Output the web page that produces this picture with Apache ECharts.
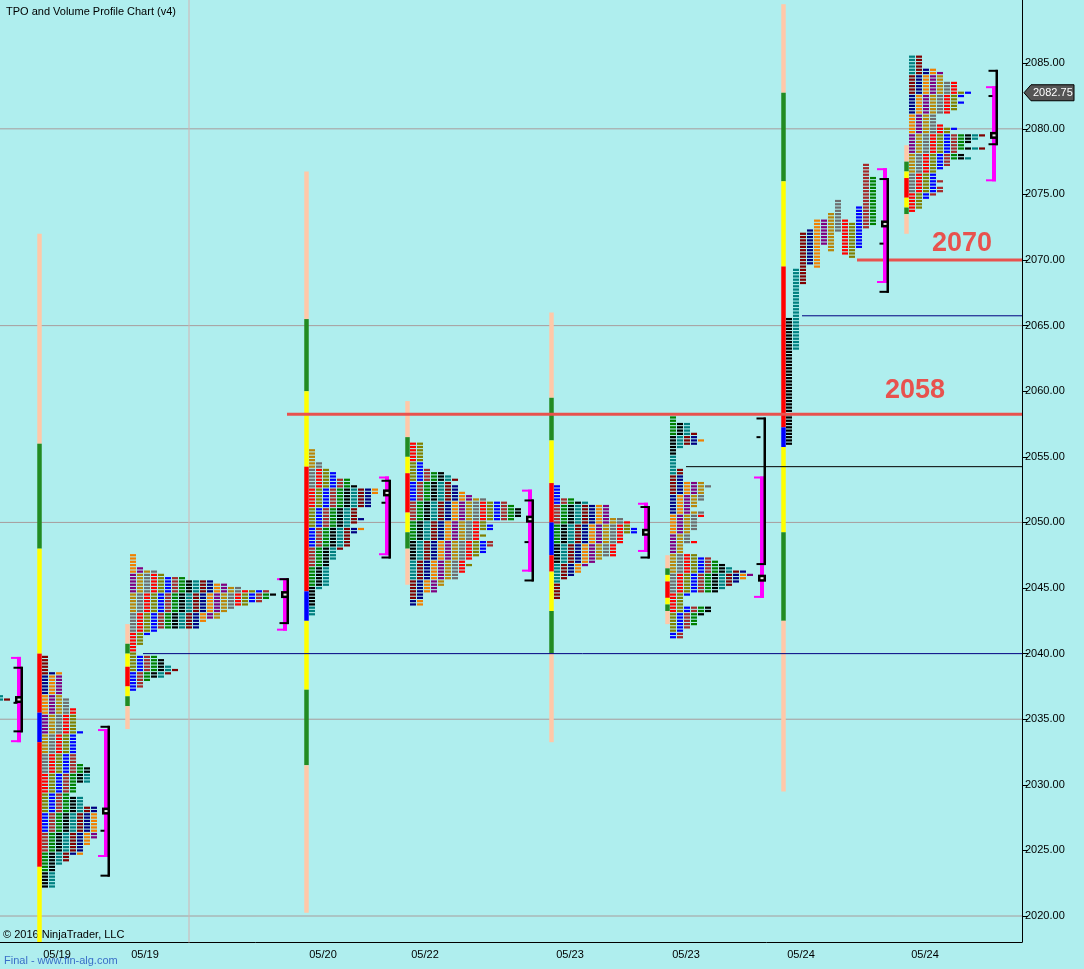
<!DOCTYPE html>
<html><head><meta charset="utf-8">
<script src="https://cdn.jsdelivr.net/npm/echarts@6/dist/echarts.min.js"></script>
<style>html,body{margin:0;padding:0;background:#AFEEEE}#c{width:1084px;height:969px}</style>
</head><body><div id="c"></div><script>
// ---------- DATA ----------
const xLabelPos  = [57, 145, 323, 425, 570, 686, 801, 925];
const xLabelText = ['05/19','05/19','05/20','05/22','05/23','05/23','05/24','05/24'];
const yTicks = [2020,2025,2030,2035,2040,2045,2050,2055,2060,2065,2070,2075,2080,2085];
const gridLevels = [2020, 2035, 2050, 2065, 2080];
const TICK = 0.25;

// collapsed TPO profiles: TPO count per price row, from the top row downward
const tpo0 = [2,3];
const tpoA = [1,1,1,1,1, 3,3,3,3,3,3,3,3, 4,4,4, 5,5,5,5,5,5,5, 6, 5,5,5,5,5,5,5,5,5, 6, 7,7,7,7,7, 5,5,5, 4, 6,6,6, 8,8,8,8,8,8,8,8,8,8, 7,7, 6,6,6, 4,4, 3, 2,2,2,2,2,2,2];
const tpoB = [1,1,1,1,2,4,5,8,12,14,16,20,21,20,19,17,15,14,13,13,11,10,10,4,3,2,2,2,1,1,1,4,5,5,6,7,6,5,3,2,2,1];
const tpoC = [1,1,1,1,2,2,3,4,4,6,6,7,10,10,9,9,9,9,7,7,7,8,7,6,8,7,6,6,6,6,5,4,4,4,3,3,3,3,3,3,3,3,2,1,1,1,1,1,1,1,1];
const tpoD = [2,2,2,2,2,2,2,2,3,5,6,7,6,7,7,8,9,11,14,15,16,16,16,15,11,12,12,10,11,10,12,12,11,11,10,9,8,9,8,8,7,7,5,5,4,4,2,2,2,2];
const tpoE = [1,1,1,1,3,5,8,8,8,8,10,11,11,12,12,10,10,10,9,9,9,9,7,6,5,4,4,3,2,1,1,1,1,1,1];
const tpoF = [1,1,3,3,3,4,4,5,4,2, 1,1,1,1,1,1,2,2,2,2, 5,6,5,5,5,5,4,4,3, 5,5,4,4,4,4,3,3,3, 4,2,2,2,4, 6,7,8,9,11,12,11,10,9,8, 7,3,2,2,2, 6,6,5,4,4,4,3,2,2,2];
const tpoH = [2,2,2,2,4,5,5,5,7,7,7,9,8,7,8,7,7,6,4,4,4,5,7,6,11,10,9,8,11,7,8,9,6,6,5,4,4,4,5,4,5,5,4,3,2,2,2,1];
const tpoProfiles = [tpo0, tpoA, tpoB, tpoC, tpoD, tpoE, tpoF, tpoH];
const tpoTop      = [2036.75, 2039.75, 2047.5, 2055.5, 2056.0, 2052.75, 2058.0, 2085.5];
const tpoStartX   = [-10, 42, 130, 309, 410, 554, 670, 909];

// unfolded profile (05/24 first session): [low, high] of each 30-min period
const gStartX = 786;
const gPeriods = [[2056.0,2065.5],[2063.25,2069.25],[2068.25,2072.0],[2069.75,2072.25],[2069.5,2073.0],[2071.25,2073.0],[2070.75,2073.5],[2072.25,2074.5],[2070.5,2073.0],[2070.25,2072.75],[2071.0,2074.0],[2072.5,2077.25],[2072.75,2076.25]];

// session range bars: 10 boundaries (top->bottom) for 9 coloured segments
const vbStartX = [42, 130, 309, 410, 554, 670, 786, 909];
const vbLevels = [
  [2072, 2056, 2048, 2040, 2035.5, 2033.25, 2023.75, 2017, 2017, 2017],
  [2042.25, 2040.75, 2040.0, 2039.0, 2037.5, 2037.5, 2037.5, 2036.75, 2036.0, 2034.25],
  [2076.75, 2065.5, 2060.0, 2054.25, 2044.75, 2042.5, 2042.5, 2037.25, 2031.5, 2020.25],
  [2059.25, 2056.5, 2055.0, 2053.75, 2050.75, 2050.75, 2050.75, 2049.25, 2048.0, 2045.25],
  [2066.0, 2059.5, 2056.25, 2053.0, 2050.0, 2047.5, 2046.25, 2043.25, 2040.0, 2033.25],
  [2047.5, 2046.5, 2046.0, 2045.5, 2044.25, 2044.25, 2044.25, 2043.75, 2043.25, 2042.25],
  [2089.5, 2082.75, 2076.0, 2069.5, 2057.25, 2055.75, 2055.75, 2049.25, 2042.5, 2029.5],
  [2078.75, 2077.5, 2076.75, 2076.25, 2074.75, 2074.75, 2074.75, 2074.0, 2073.5, 2072.0]
];

// brackets: value area (magenta) top/bottom, black range top/bottom, marker price, tick price (0 = none)
const bracketX   = [19, 106, 285, 387, 530, 646, 762, 885, 994];
const vaTop      = [2039.75, 2034.25, 2045.75, 2053.5, 2052.5, 2051.5, 2053.5, 2077.0, 2083.25];
const vaBot      = [2033.25, 2024.5, 2041.75, 2047.5, 2046.25, 2047.75, 2044.25, 2068.25, 2076.0];
const rngTop     = [2039.0, 2034.5, 2045.75, 2053.25, 2051.75, 2051.25, 2058.0, 2076.25, 2084.5];
const rngBot     = [2034.0, 2023.0, 2042.25, 2047.25, 2045.5, 2047.25, 2046.75, 2067.5, 2078.75];
const markerP    = [2036.5, 2028.0, 2044.5, 2052.25, 2050.25, 2049.25, 2045.75, 2072.75, 2079.5];
const tickP      = [2036.25, 2026.5, 0, 2051.5, 2048.5, 0, 2056.5, 2071.25, 2082.5];

// horizontal levels
const redLevels   = [2058.25, 2070.0];
const redStartX   = [287, 857];
const redLabels   = ['2058', '2070'];
const redLabelX   = [915, 962];
const navyLevels  = [2040.0, 2065.75];
const navyStartX  = [143, 802];
const blackLevels = [2054.25];
const blackStartX = [686];
const dividerX    = [189];
const lastPrice   = 2082.75;

// ---------- STYLE ----------
const PALETTE = ['#000000','#008080','#800000','#000080','#F08000','#800080','#B8860B','#6E6E6E','#FF0000','#808000','#0000FF','#A52A2A','#008000'];
const VB_COLORS = ['#FFC8A8','#228B22','#FFFF00','#FF0000','#0000FF','#FF0000','#FFFF00','#228B22','#FFC8A8'];
const COL_PITCH = 7, BLOCK_W = 6, XMAX = 1022;
const RED_LABEL_GAP = [10, 3];
const FONT = '"Liberation Sans", Arial, sans-serif';

// ---------- BUILD ----------
const blocks = [];
tpoProfiles.forEach((rows, s) => {
  rows.forEach((w, r) => {
    for (let c = 0; c < w; c++) {
      const ci = (c + Math.floor(r / 6) + 2 * s) % PALETTE.length;
      blocks.push([tpoStartX[s] + c * COL_PITCH, tpoTop[s] - r * TICK, ci]);
    }
  });
});
gPeriods.forEach(([lo, hi], k) => {
  for (let p = hi; p >= lo - 1e-9; p -= TICK) blocks.push([gStartX + k * COL_PITCH, p, k % PALETTE.length]);
});

const vbData = [];
vbLevels.forEach((lv, s) => {
  for (let i = 0; i < 9; i++) if (lv[i] > lv[i + 1]) vbData.push([vbStartX[s] - 2.5, lv[i], lv[i + 1], i]);
});

const brData = bracketX.map((x, i) => [x, vaTop[i], vaBot[i], rngTop[i], rngBot[i], markerP[i], tickP[i]]);

const hLine = (p, x0, color, width, z) => ({
  type: 'line', data: [[x0, p], [XMAX, p]], symbol: 'none', silent: true, z: z,
  lineStyle: { color: color, width: width }, animation: false
});

const series = [];
gridLevels.forEach(p => series.push(hLine(p, 0, '#A89C9C', 1, 1)));
dividerX.forEach(x => series.push({
  type: 'line', data: [[x, 2017], [x, 2091]], symbol: 'none', silent: true, z: 1,
  lineStyle: { color: '#D2B4B4', width: 1 }, animation: false
}));

series.push({
  type: 'custom', clip: true, z: 2, animation: false, silent: true,
  data: vbData, encode: { x: 0, y: [1, 2] },
  renderItem: (params, api) => {
    const a = api.coord([api.value(0), api.value(1)]);
    const b = api.coord([api.value(0), api.value(2)]);
    return { type: 'rect', shape: { x: a[0] - 2.25, y: a[1], width: 4.5, height: b[1] - a[1] },
      style: { fill: VB_COLORS[api.value(3)] } };
  }
});

series.push({
  type: 'custom', clip: true, z: 3, animation: false, silent: true,
  data: blocks, encode: { x: 0, y: 1 },
  renderItem: (params, api) => {
    const pt = api.coord([api.value(0), api.value(1)]);
    const sz = api.size([BLOCK_W, TICK]);
    const h = sz[1] * 0.68;
    return { type: 'rect', shape: { x: pt[0], y: pt[1] - h / 2, width: sz[0], height: h },
      style: { fill: PALETTE[api.value(2)] } };
  }
});

navyLevels.forEach((p, i) => series.push(hLine(p, navyStartX[i], '#000080', 1, 4)));
blackLevels.forEach((p, i) => series.push(hLine(p, blackStartX[i], '#000000', 1, 4)));
redLevels.forEach((p, i) => series.push(hLine(p, redStartX[i], '#E8524E', 3, 4)));

series.push({
  type: 'custom', clip: false, z: 5, animation: false, silent: true,
  data: redLevels.map((p, i) => [redLabelX[i], p, i]), encode: { x: 0, y: 1 },
  renderItem: (params, api) => {
    const i = api.value(2);
    const pt = api.coord([api.value(0), api.value(1)]);
    return { type: 'text', x: pt[0], y: pt[1] - RED_LABEL_GAP[i],
      style: { text: redLabels[i], fill: '#E8524E', font: 'bold 27px ' + FONT, align: 'center', verticalAlign: 'bottom' } };
  }
});

series.push({
  type: 'custom', clip: true, z: 6, animation: false, silent: true,
  data: brData, encode: { x: 0, y: [1, 2, 3, 4] },
  renderItem: (params, api) => {
    const x = api.value(0);
    const c = p => api.coord([x, p]);
    const mt = c(api.value(1)), mb = c(api.value(2)), bt = c(api.value(3)), bb = c(api.value(4)), mk = c(api.value(5));
    const X = mt[0], XB = X + 2.5;
    const kids = [
      { type: 'rect', shape: { x: X - 2, y: mt[1], width: 4, height: mb[1] - mt[1] }, style: { fill: '#FF00FF' } },
      { type: 'rect', shape: { x: X - 8, y: mt[1], width: 10, height: 2 }, style: { fill: '#FF00FF' } },
      { type: 'rect', shape: { x: X - 8, y: mb[1] - 2, width: 10, height: 2 }, style: { fill: '#FF00FF' } },
      { type: 'rect', shape: { x: XB - 1, y: bt[1], width: 2.5, height: bb[1] - bt[1] }, style: { fill: '#000' } },
      { type: 'rect', shape: { x: XB - 8, y: bt[1], width: 9, height: 2 }, style: { fill: '#000' } },
      { type: 'rect', shape: { x: XB - 8, y: bb[1] - 2, width: 9, height: 2 }, style: { fill: '#000' } }
    ];
    const tk = api.value(6);
    if (tk > 0) { const t = c(tk); kids.push({ type: 'rect', shape: { x: XB - 8, y: t[1] - 1, width: 4, height: 2 }, style: { fill: '#000' } }); }
    kids.push({ type: 'rect', shape: { x: X - 4, y: mk[1] - 3.5, width: 8, height: 7 }, style: { fill: '#000' } });
    kids.push({ type: 'rect', shape: { x: X - 1.5, y: mk[1] - 1, width: 3, height: 2 }, style: { fill: '#E8E8E8' } });
    return { type: 'group', children: kids };
  }
});

series.push({
  type: 'custom', clip: false, z: 7, animation: false, silent: true,
  data: [[XMAX, lastPrice]], encode: { x: 0, y: 1 },
  renderItem: (params, api) => {
    const pt = api.coord([api.value(0), api.value(1)]);
    const x = pt[0] + 2, y = pt[1];
    return { type: 'group', children: [
      { type: 'polygon', shape: { points: [[x, y], [x + 7, y - 8], [x + 50, y - 8], [x + 50, y + 8], [x + 7, y + 8]] },
        style: { fill: '#555555', stroke: '#000', lineWidth: 1 } },
      { type: 'text', x: x + 9, y: y, style: { text: api.value(1).toFixed(2), fill: '#fff', font: '11px ' + FONT, verticalAlign: 'middle' } }
    ]};
  }
});

const chart = echarts.init(document.getElementById('c'), null, { renderer: 'canvas' });
chart.setOption({
  backgroundColor: '#AFEEEE',
  animation: false,
  grid: { left: 0, right: 62, top: 0, bottom: 27, containLabel: false },
  xAxis: {
    type: 'value', min: 0, max: XMAX,
    axisLine: { show: true, onZero: false, lineStyle: { color: '#000', width: 1 } },
    axisTick: { show: false },
    splitLine: { show: false },
    axisLabel: { customValues: xLabelPos, formatter: v => xLabelText[xLabelPos.indexOf(v)] || '',
      color: '#000', fontSize: 11, fontFamily: FONT, margin: 7 }
  },
  yAxis: {
    type: 'value', position: 'right', min: 2018.02, max: 2089.82, scale: true,
    axisLine: { show: true, onZero: false, lineStyle: { color: '#000', width: 1 } },
    axisTick: { show: true, customValues: yTicks, length: 6, lineStyle: { color: '#000' } },
    splitLine: { show: false },
    axisLabel: { customValues: yTicks, formatter: v => Number(v).toFixed(2), color: '#000', fontSize: 11, fontFamily: FONT, margin: 3 }
  },
  graphic: [
    { type: 'text', left: 6, top: 6, style: { text: 'TPO and Volume Profile Chart (v4)', font: '11px ' + FONT, fill: '#000' } },
    { type: 'text', left: 3, top: 929, style: { text: '© 2016 NinjaTrader, LLC', font: '11px ' + FONT, fill: '#000' } },
    { type: 'text', left: 4, top: 955, style: { text: 'Final - www.fin-alg.com', font: '11px ' + FONT, fill: '#3A6FC8' } }
  ],
  series: series
});
</script></body></html>
